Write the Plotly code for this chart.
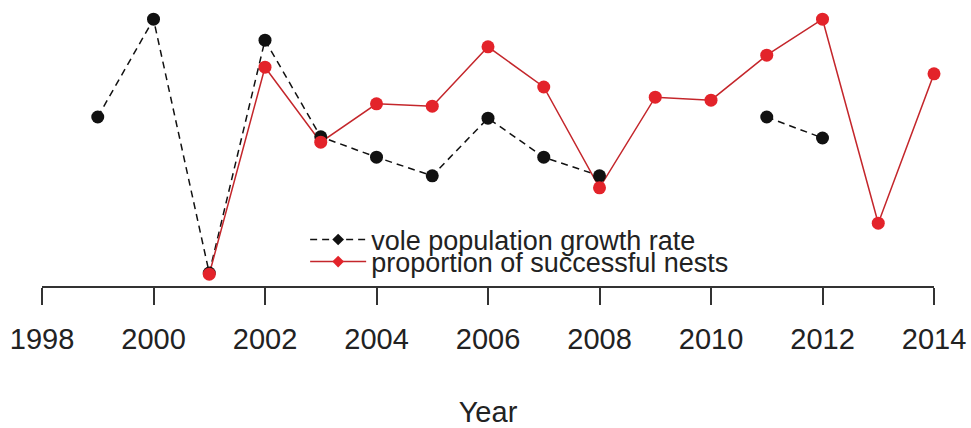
import plotly.graph_objects as go

# Yearly series (standardised units)
years_vole = [1999, 2000, 2001, 2002, 2003, 2004, 2005, 2006, 2007, 2008, 2009, 2010, 2011, 2012]
vole_growth = [0.55, 2.18, -2.05, 1.83, 0.22, -0.12, -0.43, 0.53, -0.12, -0.43, None, None, 0.55, 0.20]

years_nests = [2001, 2002, 2003, 2004, 2005, 2006, 2007, 2008, 2009, 2010, 2011, 2012, 2013, 2014]
nest_success = [-2.07, 1.38, 0.13, 0.77, 0.73, 1.72, 1.05, -0.63, 0.88, 0.83, 1.58, 2.18, -1.22, 1.27]

tick_years = [1998, 2000, 2002, 2004, 2006, 2008, 2010, 2012, 2014]

BLACK = "#111111"
RED_PT = "#e3232a"
RED_LN = "#c4262b"
FONT = "Liberation Sans, Arial, sans-serif"
Y_RANGE = [-2.2667, 2.5]

fig = go.Figure()

# connecting lines
fig.add_trace(go.Scatter(x=years_vole, y=vole_growth, mode="lines", connectgaps=False,
                         line=dict(color=BLACK, width=1.5, dash="7px,5px"),
                         showlegend=False, hoverinfo="skip"))
fig.add_trace(go.Scatter(x=years_nests, y=nest_success, mode="lines",
                         line=dict(color=RED_LN, width=1.5),
                         showlegend=False, hoverinfo="skip"))

# points
fig.add_trace(go.Scatter(x=years_vole, y=vole_growth, mode="markers",
                         marker=dict(color=BLACK, size=13, line=dict(width=0)),
                         showlegend=False, cliponaxis=False))
fig.add_trace(go.Scatter(x=years_nests, y=nest_success, mode="markers",
                         marker=dict(color=RED_PT, size=13, line=dict(width=0)),
                         showlegend=False, cliponaxis=False))

# legend entries
fig.add_trace(go.Scatter(x=[None], y=[None], mode="lines+markers",
                         name="vole population growth rate", legend="legend",
                         line=dict(color=BLACK, width=1.6, dash="7px,5px"),
                         marker=dict(color=BLACK, size=9, symbol="diamond")))
fig.add_trace(go.Scatter(x=[None], y=[None], mode="lines+markers",
                         name="proportion of successful nests", legend="legend2",
                         line=dict(color=RED_LN, width=1.6),
                         marker=dict(color=RED_PT, size=9, symbol="diamond")))

legend_common = dict(font=dict(family=FONT, size=27, color="#222222"),
                     bgcolor="rgba(0,0,0,0)", borderwidth=0, itemwidth=56,
                     xanchor="left", yanchor="middle")

fig.update_layout(
    width=971, height=428,
    margin=dict(l=42, r=37, t=0, b=142),
    paper_bgcolor="white", plot_bgcolor="white",
    font=dict(family=FONT, color="#222222"),
    legend=dict(x=0.295, y=0.161, **legend_common),
    legend2=dict(x=0.295, y=0.084, **legend_common),
    xaxis=dict(
        range=[1998, 2014], tickmode="array", tickvals=tick_years,
        ticktext=[str(y) for y in tick_years],
        showgrid=False, zeroline=False, showline=True, linecolor="#333333", linewidth=1.6,
        ticks="outside", ticklen=17, tickwidth=1.6, tickcolor="#333333",
        tickfont=dict(family=FONT, size=29, color="#222222"),
        ticklabelstandoff=9,
        title=dict(text="Year", font=dict(family=FONT, size=29, color="#222222"), standoff=48),
    ),
    yaxis=dict(visible=False, range=Y_RANGE, showgrid=False, zeroline=False),
)

fig.write_html("out.html")
